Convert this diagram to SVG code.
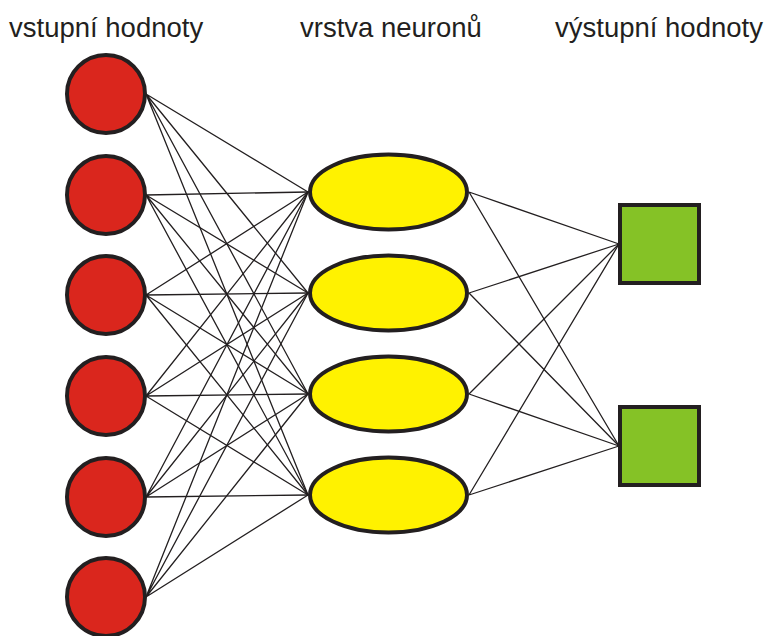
<svg xmlns="http://www.w3.org/2000/svg" width="768" height="636" viewBox="0 0 768 636">
  <style>
    .label { font-family: "Liberation Sans", Arial, sans-serif; font-size: 27.5px; fill: #231f20; }
    .edge { stroke: #231f20; stroke-width: 1.3; fill: none; }
    .in { fill: #da261d; stroke: #231f20; stroke-width: 4; }
    .hid { fill: #fff200; stroke: #231f20; stroke-width: 4; }
    .out { fill: #85c226; stroke: #231f20; stroke-width: 4; }
  </style>
  <rect width="768" height="636" fill="#ffffff"/>

  <!-- layer titles -->
  <text class="label" x="9" y="37">vstupní hodnoty</text>
  <text class="label" x="300" y="37">vrstva neuronů</text>
  <text class="label" x="555" y="37">výstupní hodnoty</text>

  <!-- connectors: every input to every neuron, every neuron to every output -->
  <g id="connectors" class="edge">
    <path d="M146,94 L308,192 M146,94 L308,293 M146,94 L308,394 M146,94 L308,495"/>
    <path d="M146,195 L308,192 M146,195 L308,293 M146,195 L308,394 M146,195 L308,495"/>
    <path d="M146,295 L308,192 M146,295 L308,293 M146,295 L308,394 M146,295 L308,495"/>
    <path d="M146,396 L308,192 M146,396 L308,293 M146,396 L308,394 M146,396 L308,495"/>
    <path d="M146,497 L308,192 M146,497 L308,293 M146,497 L308,394 M146,497 L308,495"/>
    <path d="M146,597 L308,192 M146,597 L308,293 M146,597 L308,394 M146,597 L308,495"/>
    <path d="M469,192 L619,244 M469,192 L619,446"/>
    <path d="M469,293 L619,244 M469,293 L619,446"/>
    <path d="M469,394 L619,244 M469,394 L619,446"/>
    <path d="M469,495 L619,244 M469,495 L619,446"/>
  </g>

  <!-- input values -->
  <g id="input1"><circle class="in" cx="106" cy="94" r="39"/></g>
  <g id="input2"><circle class="in" cx="106" cy="195" r="39"/></g>
  <g id="input3"><circle class="in" cx="106" cy="295" r="39"/></g>
  <g id="input4"><circle class="in" cx="106" cy="396" r="39"/></g>
  <g id="input5"><circle class="in" cx="106" cy="497" r="39"/></g>
  <g id="input6"><circle class="in" cx="106" cy="597" r="39"/></g>

  <!-- neuron layer -->
  <g id="neuron1"><ellipse class="hid" cx="388.5" cy="192" rx="78.5" ry="37.5"/></g>
  <g id="neuron2"><ellipse class="hid" cx="388.5" cy="293" rx="78.5" ry="37.5"/></g>
  <g id="neuron3"><ellipse class="hid" cx="388.5" cy="394" rx="78.5" ry="37.5"/></g>
  <g id="neuron4"><ellipse class="hid" cx="388.5" cy="495" rx="78.5" ry="37.5"/></g>

  <!-- output values -->
  <g id="output1"><rect class="out" x="620" y="205" width="79" height="78"/></g>
  <g id="output2"><rect class="out" x="620" y="407" width="79" height="78"/></g>
</svg>
